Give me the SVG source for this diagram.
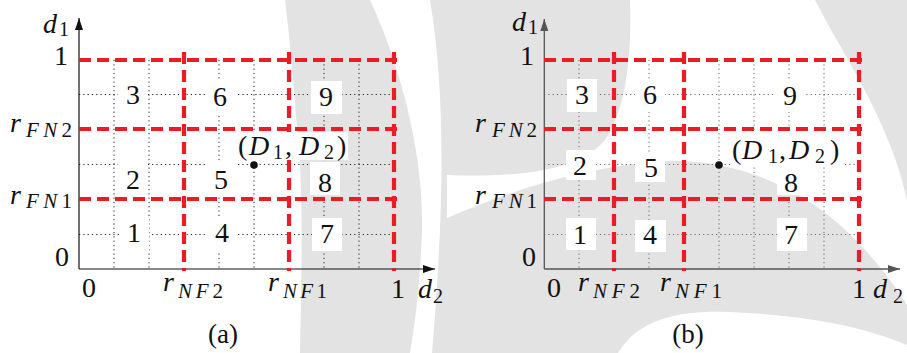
<svg xmlns="http://www.w3.org/2000/svg" width="907" height="353" viewBox="0 0 907 353">
<style>
text{font-family:'Liberation Serif','Times New Roman',serif;font-size:28px;fill:#111}
.i{font-style:italic}
.s{font-size:20px}
.ss{font-size:21px}
.red{fill:none;stroke:#ec1c24;stroke-width:4.2;stroke-dasharray:12 6}
.dota{fill:none;stroke:#222;stroke-width:1;stroke-dasharray:1.2 3.1}
.dotb{fill:none;stroke:#666;stroke-width:1;stroke-dasharray:1.2 3.1}
.box{fill:#fff}
.wm{fill:#e3e3e3}
</style>
<defs>
<marker id="arrA" viewBox="0 0 12 8" refX="12" refY="4" markerWidth="12" markerHeight="8" markerUnits="userSpaceOnUse" orient="auto"><path d="M0,0 L12,4 L0,8 Z" fill="#111"/></marker>
<marker id="arrB" viewBox="0 0 12 8" refX="12" refY="4" markerWidth="12" markerHeight="8" markerUnits="userSpaceOnUse" orient="auto"><path d="M0,0 L12,4 L0,8 Z" fill="#555"/></marker>
</defs>
<rect width="907" height="353" fill="#fff"/>
<g id="watermark">
<path class="wm" d="M285,0 L370,0 C398,60 424,150 422,230 C420,290 414,330 410,353 L300,353 C302,260 303,190 298,140 C294,90 290,40 285,0 Z"/>
<path class="wm" d="M430,0 C445,90 445,200 432,353 L447,353 L447,0 Z"/>
<path class="wm" d="M447,0 L630,0 C632,60 625,110 605,140 C580,170 520,178 447,175 Z"/>
<path class="wm" d="M815,0 L907,0 L907,200 C890,120 840,50 815,0 Z"/>
<path class="wm" d="M447,218 C500,195 570,170 650,162 C720,155 790,180 840,225 C870,252 895,285 907,305 L907,353 L447,353 Z"/>
<path fill="#fff" d="M618,353 C640,315 690,310 730,312 C800,315 860,325 907,345 L907,353 Z"/>
</g>
<g id="panel-a">
<g id="grid-a">
<path class="dota" d="M114,60V269 M149,60V269 M219,60V269 M254,60V269 M324,60V269 M359,60V269 M79,94.5H394 M79,164.5H394 M79,234.5H394"/>
</g>
<g id="axes-a">
<path d="M79,269V18" stroke="#111" stroke-width="1.2" marker-end="url(#arrA)"/>
<path d="M79,269H435" stroke="#111" stroke-width="1.2" marker-end="url(#arrA)"/>
</g>
<g id="thresholds-a">
<path class="red" d="M79,60H401 M79,129H401 M79,199H401"/>
<path class="red" d="M184,52V271 M289,52V271 M394,52V271"/>
</g>
<g id="regions-a">
<rect class="box" x="118" y="78" width="30" height="33"/><text x="133" y="103.5" text-anchor="middle">3</text>
<rect class="box" x="205" y="80" width="30" height="33"/><text x="220" y="105.5" text-anchor="middle">6</text>
<rect class="box" x="311" y="81" width="31" height="33"/><text x="326" y="105.5" text-anchor="middle">9</text>
<rect class="box" x="118" y="163" width="30" height="33"/><text x="133" y="188.5" text-anchor="middle">2</text>
<rect class="box" x="206" y="163" width="30" height="33"/><text x="221" y="188.5" text-anchor="middle">5</text>
<rect class="box" x="310" y="162" width="30" height="33"/><text x="325" y="191.5" text-anchor="middle">8</text>
<rect class="box" x="119" y="218" width="30" height="33"/><text x="134" y="241.5" text-anchor="middle">1</text>
<rect class="box" x="207" y="218" width="30" height="33"/><text x="222" y="241.5" text-anchor="middle">4</text>
<rect class="box" x="312" y="218" width="30" height="33"/><text x="327" y="242.5" text-anchor="middle">7</text>
</g>
<g id="point-a">
<rect class="box" x="237" y="132" width="111" height="28"/>
<text y="155"><tspan x="238">(</tspan><tspan class="i" x="249">D</tspan><tspan class="s" x="273" dy="4">1</tspan><tspan x="285" dy="-4">,</tspan><tspan class="i" x="299">D</tspan><tspan class="s" x="324" dy="4">2</tspan><tspan x="337" dy="-4">)</tspan></text>
<circle cx="254" cy="165" r="3.8" fill="#111"/>
</g>
<g id="labels-a">
<text class="i" x="43" y="33">d</text><text class="s" x="59" y="36">1</text>
<text x="68" y="65" text-anchor="end">1</text>
<text class="i" x="10" y="132">r</text><text class="ss" x="26" y="137" textLength="46" lengthAdjust="spacing"><tspan class="i">FN</tspan>2</text>
<text class="i" x="10" y="204">r</text><text class="ss" x="26" y="208" textLength="46" lengthAdjust="spacing"><tspan class="i">FN</tspan>1</text>
<text x="69" y="266" text-anchor="end">0</text>
<text x="82" y="297">0</text>
<text class="i" x="163" y="291">r</text><text class="ss" x="178" y="298" textLength="45" lengthAdjust="spacing"><tspan class="i">NF</tspan>2</text>
<text class="i" x="268" y="291">r</text><text class="ss" x="283" y="298" textLength="44" lengthAdjust="spacing"><tspan class="i">NF</tspan>1</text>
<text x="391" y="298">1</text>
<text class="i" x="418" y="298">d</text><text class="s" x="433" y="303">2</text>
<text x="223" y="343" text-anchor="middle" style="font-size:27px">(a)</text>
</g>
</g>
<g id="panel-b">
<g id="grid-b">
<path class="dotb" d="M579,60V269 M649,60V269 M719,60V269 M754,60V269 M789,60V269 M824,60V269 M544,94.5H859 M544,164.5H859 M544,234.5H859"/>
</g>
<g id="axes-b">
<path d="M544.3,269V19" stroke="#555" stroke-width="1.3" marker-end="url(#arrB)"/>
<path d="M544.3,269H900" stroke="#555" stroke-width="1.3" marker-end="url(#arrB)"/>
</g>
<g id="thresholds-b">
<path class="red" d="M544,60H866 M544,129H866 M544,199H866"/>
<path class="red" d="M614,52V271 M684,52V271 M859,52V271"/>
</g>
<g id="regions-b">
<rect class="box" x="567" y="79" width="30" height="33"/><text x="582" y="103.5" text-anchor="middle">3</text>
<rect class="box" x="635" y="79" width="30" height="33"/><text x="650" y="103.5" text-anchor="middle">6</text>
<rect class="box" x="775" y="79" width="30" height="33"/><text x="790" y="104.5" text-anchor="middle">9</text>
<rect class="box" x="566" y="150" width="30" height="30"/><text x="580" y="174.5" text-anchor="middle">2</text>
<rect class="box" x="635" y="152" width="30" height="30"/><text x="651" y="176.5" text-anchor="middle">5</text>
<rect class="box" x="777" y="167" width="30" height="28"/><text x="791" y="191.5" text-anchor="middle">8</text>
<rect class="box" x="566" y="218" width="30" height="32"/><text x="580" y="243.5" text-anchor="middle">1</text>
<rect class="box" x="635" y="220" width="31" height="32"/><text x="650" y="243.5" text-anchor="middle">4</text>
<rect class="box" x="777" y="218" width="30" height="33"/><text x="791" y="243.5" text-anchor="middle">7</text>
</g>
<g id="point-b">
<rect class="box" x="731" y="133" width="112" height="34"/>
<text y="159"><tspan x="732">(</tspan><tspan class="i" x="742">D</tspan><tspan class="s" x="768" dy="4">1</tspan><tspan x="779" dy="-4">,</tspan><tspan class="i" x="789">D</tspan><tspan class="s" x="815" dy="4">2</tspan><tspan x="830" dy="-4">)</tspan></text>
<circle cx="719" cy="165" r="3.8" fill="#111"/>
</g>
<g id="labels-b">
<text class="i" x="512" y="31">d</text><text class="s" x="528" y="34">1</text>
<text x="534" y="65" text-anchor="end">1</text>
<text class="i" x="475" y="132">r</text><text class="ss" x="492" y="137" textLength="45" lengthAdjust="spacing"><tspan class="i">FN</tspan>2</text>
<text class="i" x="475" y="204">r</text><text class="ss" x="492" y="208" textLength="45" lengthAdjust="spacing"><tspan class="i">FN</tspan>1</text>
<text x="536" y="266" text-anchor="end">0</text>
<text x="547" y="297">0</text>
<text class="i" x="578" y="291">r</text><text class="ss" x="593" y="298" textLength="47" lengthAdjust="spacing"><tspan class="i">NF</tspan>2</text>
<text class="i" x="660" y="291">r</text><text class="ss" x="675" y="298" textLength="47" lengthAdjust="spacing"><tspan class="i">NF</tspan>1</text>
<text x="852" y="298">1</text>
<text class="i" x="873" y="298">d</text><text class="s" x="893" y="303">2</text>
<text x="688" y="343" text-anchor="middle" style="font-size:27px">(b)</text>
</g>
</g>
</svg>
